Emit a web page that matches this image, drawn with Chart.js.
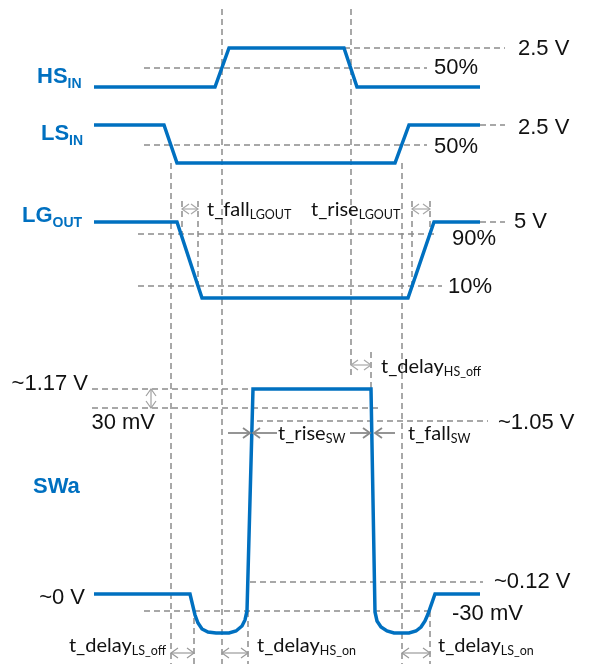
<!DOCTYPE html>
<html><head><meta charset="utf-8">
<script src="https://cdn.jsdelivr.net/npm/chart.js@4/dist/chart.umd.min.js"></script>
<style>html,body{margin:0;padding:0;background:#fff;}#wrap{width:595px;height:664px;position:relative;}</style>
</head><body><div id="wrap"><canvas id="c"></canvas></div>
<script>
// Diagram units: x = time axis (0..595), y = vertical level axis (0..664, downward)
const hsIn  = [[94,87],[215,87],[229,48],[344,48],[357,87],[480,87]];
const lsIn  = [[94,125],[164,125],[177,163],[395,163],[409,125],[480,125]];
const lgOut = [[94,222],[177,222],[202,298],[408,298],[434,222],[480,222]];
const swA   = [[94,594],[190,594],[195,615],[198,623],[202,629],[208,632],[216,633],[229,633],[236,631],[242,626],[245,620],[247,611],
               [253,389],[371,389],[375,612],[377,621],[381,627],[387,631],[394,633],[409,633],[416,631],[421,627],[425,621],[428,614],[435,594],[480,594]];
// horizontal reference levels: [y, xStart, xEnd]
const hGuides = [[48,344,505],[68,144,427],[125,480,505],[145,144,427],[222,480,505],[234,138,434],[286,138,442],
                 [389,92,253],[408,92,379],[421,257,488],[582,250,483],[611,144,428]];
// vertical time markers: [x, yStart, yEnd]
const vGuides = [[171,163,664],[222,9,664],[351,9,375],[402,163,664],[182,201,234],[198,201,290],[412,201,290],[430,201,234],
                 [371,352,389],[194,618,664],[248,611,664],[430,611,664]];
// double-headed interval arrows: [x1, x2, y]
const spanArrows = [[182,198,209],[412,430,209],[351,371,365],[171,194,653],[222,248,653],[402,430,653]];
const vSpanArrows = [[151,389,408]];
// inward pointing arrows: [xFrom, xTip, y]
const pointArrows = [[228,250,433],[277,253,433],[350,370,433],[395,375,433]];
// signal names
const signalNames = [["HS","IN",37,83],["LS","IN",41,140],["LG","OUT",22,222],["SWa","",33,493]];
// level labels: [text, x, y(baseline), align]
const levelLabels = [["2.5 V",518,55,"left"],["50%",434,74,"left"],["2.5 V",518,134,"left"],["50%",434,153,"left"],
  ["5 V",514,228,"left"],["90%",452,245,"left"],["10%",448,293,"left"],["~1.17 V",88,390,"right"],["30 mV",155,429,"right"],
  ["~1.05 V",498,429,"left"],["~0 V",85,604,"right"],["~0.12 V",494,588,"left"],["-30 mV",452,620,"left"]];
// timing labels: [text, subscript, x, y(baseline), align]
const timingLabels = [["t_fall","LGOUT",207,216,"left"],["t_rise","LGOUT",311,216,"left"],["t_delay","HS_off",381,373,"left"],
  ["t_rise","SW",278,440,"left"],["t_fall","SW",408,440,"left"],["t_delay","LS_off",166,652,"right"],
  ["t_delay","HS_on",257,652,"left"],["t_delay","LS_on",438,652,"left"]];

const BLUE = '#0070c0', GUIDE = '#8c8c8c';
const pts = a => a.map(p => ({x:p[0], y:p[1]}));
function segs(list, horiz){
  const out=[];
  list.forEach(s=>{
    if(horiz){out.push({x:s[1],y:s[0]},{x:s[2],y:s[0]});}
    else {out.push({x:s[0],y:s[1]},{x:s[0],y:s[2]});}
    out.push({x:NaN,y:null});
  });
  return out;
}
const wave = (d)=>({data:pts(d),showLine:true,borderColor:BLUE,borderWidth:3.5,pointRadius:0,tension:0,borderJoinStyle:'miter',borderCapStyle:'butt',fill:false,order:0});
const guide = (d)=>({data:d,showLine:true,borderColor:GUIDE,borderWidth:1.5,borderDash:[6,4],pointRadius:0,spanGaps:false,fill:false,order:5});

const annot = {
  id:'annot',
  afterDatasetsDraw(chart){
    const c = chart.ctx, X = chart.scales.x, Y = chart.scales.y;
    const px = v=>X.getPixelForValue(v), py = v=>Y.getPixelForValue(v);
    c.save();
    function chev(x,y,dir){
      c.beginPath(); c.moveTo(x - dir*7, y-5); c.lineTo(x,y); c.lineTo(x - dir*7, y+5); c.stroke();
    }
    c.lineWidth = 1.2;
    spanArrows.forEach(a=>{
      const x1=px(a[0]),x2=px(a[1]),y=py(a[2]);
      c.strokeStyle = a[2]<400 ? '#a8a8a8' : '#9a9a9a';
      c.beginPath(); c.moveTo(x1,y); c.lineTo(x2,y); c.stroke();
      chev(x1,y,-1); chev(x2,y,1);
    });
    vSpanArrows.forEach(a=>{
      const x=px(a[0]),y1=py(a[1]),y2=py(a[2]);
      c.strokeStyle='#a0a0a0';
      c.beginPath(); c.moveTo(x,y1); c.lineTo(x,y2); c.stroke();
      c.beginPath(); c.moveTo(x-5,y1+7); c.lineTo(x,y1); c.lineTo(x+5,y1+7); c.stroke();
      c.beginPath(); c.moveTo(x-5,y2-7); c.lineTo(x,y2); c.lineTo(x+5,y2-7); c.stroke();
    });
    c.lineWidth = 1.8;
    pointArrows.forEach(a=>{
      const x1=px(a[0]),x2=px(a[1]),y=py(a[2]);
      c.strokeStyle='#8a8a8a';
      c.beginPath(); c.moveTo(x1,y); c.lineTo(x2,y); c.stroke();
      chev(x2,y, x2>x1?1:-1);
    });
    // signal names
    c.fillStyle = BLUE; c.textBaseline='alphabetic'; c.textAlign='left';
    signalNames.forEach(s=>{
      c.font = 'bold 22px "Liberation Sans", Arial, sans-serif';
      const x=px(s[2]), y=py(s[3]);
      c.fillText(s[0],x,y);
      if(s[1]){ const w=c.measureText(s[0]).width; c.font='bold 14px "Liberation Sans", Arial, sans-serif'; c.fillText(s[1],x+w,y+5); }
    });
    // level labels
    c.fillStyle='#111';
    c.font='22px "Liberation Sans", Arial, sans-serif';
    levelLabels.forEach(l=>{ c.textAlign=l[3]; c.fillText(l[0],px(l[1]),py(l[2])); });
    // timing labels
    timingLabels.forEach(t=>{
      c.textAlign='left';
      c.font='20px Lato, "Open Sans", sans-serif';
      const w1=c.measureText(t[0]).width;
      c.font='12.5px Lato, "Open Sans", sans-serif';
      const w2=c.measureText(t[1]).width;
      let x=px(t[2]); const y=py(t[3]);
      if(t[4]==='right') x -= (w1+w2);
      c.font='20px Lato, "Open Sans", sans-serif';
      c.fillText(t[0],x,y);
      c.font='12.5px Lato, "Open Sans", sans-serif';
      c.fillText(t[1],x+w1,y+3);
    });
    c.restore();
  }
};

new Chart(document.getElementById('c'),{
  type:'scatter',
  data:{datasets:[wave(hsIn),wave(lsIn),wave(lgOut),wave(swA),guide(segs(hGuides,true)),guide(segs(vGuides,false))]},
  options:{
    responsive:true, maintainAspectRatio:false, animation:false,
    layout:{padding:0},
    plugins:{legend:{display:false},tooltip:{enabled:false}},
    scales:{
      x:{type:'linear',min:0,max:595,display:false},
      y:{type:'linear',min:0,max:664,reverse:true,display:false}
    }
  },
  plugins:[annot]
});
</script></body></html>
